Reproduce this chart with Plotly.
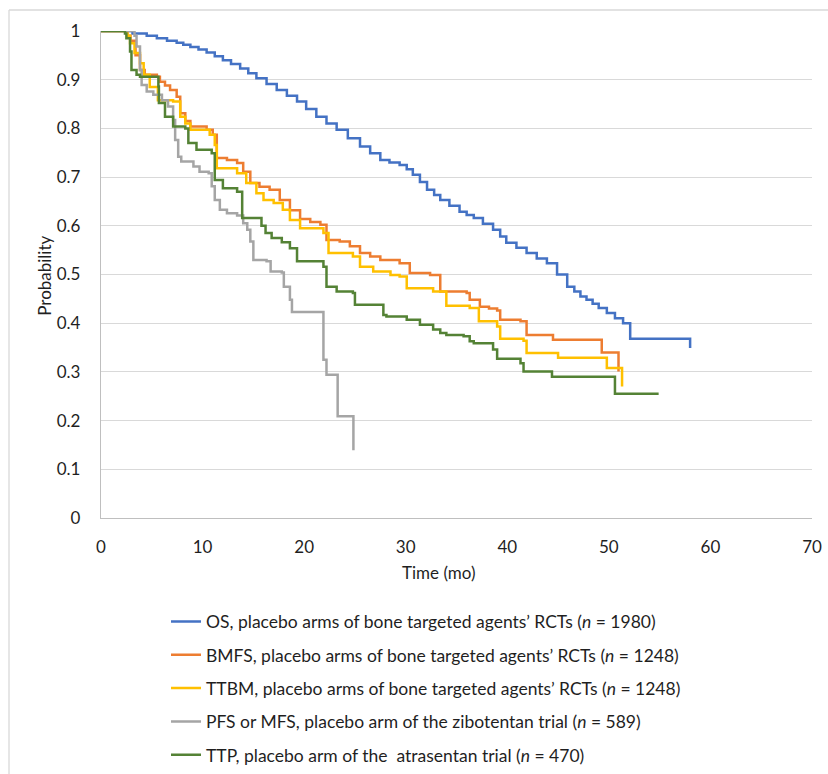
import plotly.graph_objects as go

# ---------------- data ----------------
os_t = [0, 3.1, 4.5, 5.5, 6.5, 7.45, 8.1, 8.8, 9.6, 10.4, 11.2, 12.0, 12.8, 13.7, 14.5, 15.3, 16.3,
        17.3, 18.3, 19.3, 20.2, 21.2, 22.2, 23.2, 24.3, 25.5, 26.5, 27.5, 28.4, 29.4, 30.1, 30.7,
        31.4, 32.1, 32.8, 33.4, 34.3, 35.3, 36.0, 36.7, 37.6, 38.6, 39.3, 39.9, 40.9, 41.9, 42.9,
        43.9, 44.9, 45.9, 46.6, 47.2, 47.8, 48.4, 49.0, 49.8, 50.6, 51.4, 52.1, 58.0, 58.0]
os_p = [1, 0.995, 0.99, 0.985, 0.98, 0.976, 0.972, 0.967, 0.962, 0.956, 0.948, 0.94, 0.932, 0.923,
        0.913, 0.903, 0.891, 0.879, 0.867, 0.855, 0.84, 0.824, 0.81, 0.797, 0.78, 0.763, 0.749,
        0.735, 0.73, 0.725, 0.716, 0.705, 0.69, 0.674, 0.663, 0.653, 0.641, 0.629, 0.622, 0.616,
        0.604, 0.592, 0.578, 0.565, 0.555, 0.544, 0.533, 0.523, 0.5, 0.475, 0.465, 0.455, 0.448,
        0.44, 0.431, 0.421, 0.41, 0.4, 0.368, 0.368, 0.349]

bmfs_t = [0, 2.6, 2.9, 3.4, 3.84, 4.3, 5.5, 5.8, 6.3, 6.8, 7.45, 7.8, 8.3, 8.8, 10.4, 11.0, 11.4,
          12.4, 13.4, 14.0, 14.7, 15.6, 16.6, 17.6, 18.6, 19.6, 20.6, 21.6, 22.2, 23.5, 24.5, 25.5,
          26.5, 27.5, 29.4, 30.4, 32.4, 33.4, 36.0, 36.3, 37.3, 38.2, 39.0, 39.3, 41.3, 41.9, 44.5,
          49.3, 50.95]
bmfs_p = [1, 0.99, 0.98, 0.95, 0.92, 0.91, 0.906, 0.896, 0.888, 0.879, 0.865, 0.831, 0.815, 0.804,
          0.797, 0.787, 0.739, 0.735, 0.729, 0.711, 0.688, 0.68, 0.674, 0.653, 0.632, 0.614, 0.608,
          0.602, 0.571, 0.568, 0.558, 0.544, 0.537, 0.53, 0.523, 0.503, 0.499, 0.465, 0.462, 0.448,
          0.434, 0.43, 0.426, 0.407, 0.404, 0.376, 0.366, 0.34, 0.301]

ttbm_t = [0, 2.6, 2.86, 3.3, 3.84, 4.2, 4.8, 5.6, 7.1, 7.8, 8.3, 8.8, 10.7, 11.2, 11.4, 13.4, 14.3,
          15.3, 16.0, 17.0, 17.9, 18.6, 19.6, 21.9, 22.4, 24.8, 25.5, 26.8, 28.5, 29.4, 30.1, 32.7,
          34.0, 36.3, 37.2, 39.0, 39.3, 41.6, 41.9, 45.0, 49.8, 51.3]
ttbm_p = [1, 0.99, 0.975, 0.955, 0.934, 0.91, 0.885, 0.858, 0.855, 0.824, 0.81, 0.797, 0.787, 0.766,
          0.718, 0.708, 0.688, 0.667, 0.653, 0.647, 0.633, 0.612, 0.595, 0.585, 0.544, 0.537, 0.516,
          0.506, 0.499, 0.496, 0.472, 0.465, 0.436, 0.431, 0.404, 0.393, 0.368, 0.364, 0.339, 0.329,
          0.308, 0.27]

pfs_t = [0, 3.3, 3.5, 3.84, 4.0, 4.5, 5.15, 6.0, 6.6, 7.1, 7.3, 7.6, 7.9, 9.1, 9.7, 10.6, 10.9,
         11.2, 11.7, 12.4, 13.4, 14.0, 14.4, 14.7, 15.0, 16.3, 16.7, 17.8, 18.0, 18.6, 18.8, 21.9,
         22.2, 23.3, 24.85]
pfs_p = [1, 0.99, 0.968, 0.92, 0.889, 0.876, 0.869, 0.858, 0.845, 0.817, 0.776, 0.742, 0.732, 0.722,
         0.711, 0.708, 0.681, 0.653, 0.633, 0.626, 0.621, 0.605, 0.592, 0.568, 0.53, 0.527, 0.506,
         0.504, 0.475, 0.448, 0.423, 0.325, 0.294, 0.209, 0.139]

ttp_t = [0, 2.36, 2.5, 2.86, 3.0, 3.5, 3.84, 5.65, 5.7, 6.3, 7.1, 8.3, 8.6, 9.4, 10.9, 11.2, 12.0,
         13.4, 13.9, 15.8, 16.2, 16.8, 17.8, 18.6, 19.3, 21.9, 22.2, 23.2, 24.8, 25.0, 27.8, 28.1,
         30.1, 31.4, 32.7, 33.4, 34.0, 35.7, 36.3, 36.7, 38.6, 39.0, 41.3, 41.6, 44.4, 50.6, 54.9]
ttp_p = [1, 0.995, 0.985, 0.958, 0.92, 0.91, 0.906, 0.886, 0.852, 0.824, 0.804, 0.8, 0.77, 0.756,
         0.749, 0.694, 0.677, 0.67, 0.616, 0.6, 0.585, 0.575, 0.566, 0.554, 0.527, 0.516, 0.475,
         0.465, 0.462, 0.438, 0.417, 0.414, 0.407, 0.397, 0.387, 0.38, 0.376, 0.373, 0.363, 0.359,
         0.346, 0.327, 0.318, 0.301, 0.29, 0.255, 0.255]

series_names = [
    "OS, placebo arms of bone targeted agents\u2019 RCTs (<i>n</i> = 1980)",
    "BMFS, placebo arms of bone targeted agents\u2019 RCTs (<i>n</i> = 1248)",
    "TTBM, placebo arms of bone targeted agents\u2019 RCTs (<i>n</i> = 1248)",
    "PFS or MFS, placebo arm of the zibotentan trial (<i>n</i> = 589)",
    "TTP, placebo arm of the  atrasentan trial (<i>n</i> = 470)",
]
series_colors = ["#4472C4", "#ED7D31", "#FFC000", "#A5A5A5", "#548235"]
x_ticks = [0, 10, 20, 30, 40, 50, 60, 70]
y_ticks = [0, 0.1, 0.2, 0.3, 0.4, 0.5, 0.6, 0.7, 0.8, 0.9, 1]
y_tick_text = ["0", "0.1", "0.2", "0.3", "0.4", "0.5", "0.6", "0.7", "0.8", "0.9", "1"]

series = [(os_t, os_p), (bmfs_t, bmfs_p), (ttbm_t, ttbm_p), (pfs_t, pfs_p), (ttp_t, ttp_p)]

# ---------------- figure ----------------
# body margin is removed below, so figure coords = page coords
FONT = "Lato"
FS = 17
LFS = 17.5
TXT = "#1f1f1f"
W, H = 828, 774
L, T = 101, 31
R = W - 812
B = H - 518.5
pw, ph = W - L - R, H - T - B

fig = go.Figure()
for i, ((t, p), name, col) in enumerate(zip(series, series_names, series_colors)):
    fig.add_trace(go.Scatter(
        x=t, y=p, mode="lines", name=name, line=dict(color=col, width=2.5, shape="hv"),
        cliponaxis=False, legendgroup=f"g{i}", legendrank=i + 1,
    ))

def px_x(px):  # page px -> paper
    return (px - L) / pw

def px_y(py):
    return (H - B - py) / ph

fig.update_layout(
    width=W, height=H,
    margin=dict(l=L, r=R, t=T, b=B, pad=0, autoexpand=False),
    paper_bgcolor="white", plot_bgcolor="white",
    font=dict(family=FONT, size=FS, color=TXT),
    showlegend=True,
    legend=dict(
        xref="container", yref="container",
        x=166 / W, y=1 - 603.5 / H, xanchor="left", yanchor="top",
        font=dict(family=FONT, size=LFS, color=TXT),
        traceorder="grouped", tracegroupgap=7.6, bgcolor="rgba(0,0,0,0)",
        borderwidth=0, itemwidth=30,
    ),
    xaxis=dict(
        range=[0, 70], tickvals=x_ticks, showgrid=False, zeroline=False,
        showline=True, linecolor="#BFBFBF", linewidth=1.3, automargin=False,
        ticks="outside", ticklen=13, tickcolor="rgba(0,0,0,0)",
        tickfont=dict(family=FONT, size=FS, color=TXT),
    ),
    yaxis=dict(
        range=[0, 1], tickvals=y_ticks, ticktext=y_tick_text, showgrid=True,
        gridcolor="#D9D9D9", gridwidth=1.3, zeroline=False, automargin=False,
        showline=True, linecolor="#BFBFBF", linewidth=1.3,
        ticks="outside", ticklen=16, tickcolor="rgba(0,0,0,0)",
        tickfont=dict(family=FONT, size=FS, color=TXT),
    ),
    annotations=[
        dict(text="Time (mo)", xref="paper", yref="paper", x=px_x(438), y=px_y(573),
             xanchor="center", yanchor="middle", showarrow=False,
             font=dict(family=FONT, size=FS, color=TXT)),
        dict(text="Probability", xref="paper", yref="paper", x=px_x(45), y=px_y(276),
             xanchor="center", yanchor="middle", showarrow=False, textangle=-90,
             font=dict(family=FONT, size=FS, color=TXT)),
    ],
    shapes=[
        dict(type="line", xref="paper", yref="paper", x0=px_x(9), x1=px_x(830),
             y0=px_y(10), y1=px_y(10), line=dict(color="#D9D9D9", width=1.3)),
        dict(type="line", xref="paper", yref="paper", x0=px_x(9), x1=px_x(9),
             y0=px_y(10), y1=px_y(776), line=dict(color="#D9D9D9", width=1.3)),
    ],
)

fig.write_html(
    "out.html",
    config={"displayModeBar": False},
    post_script="document.body.style.margin='0';document.body.style.overflow='hidden';",
)
